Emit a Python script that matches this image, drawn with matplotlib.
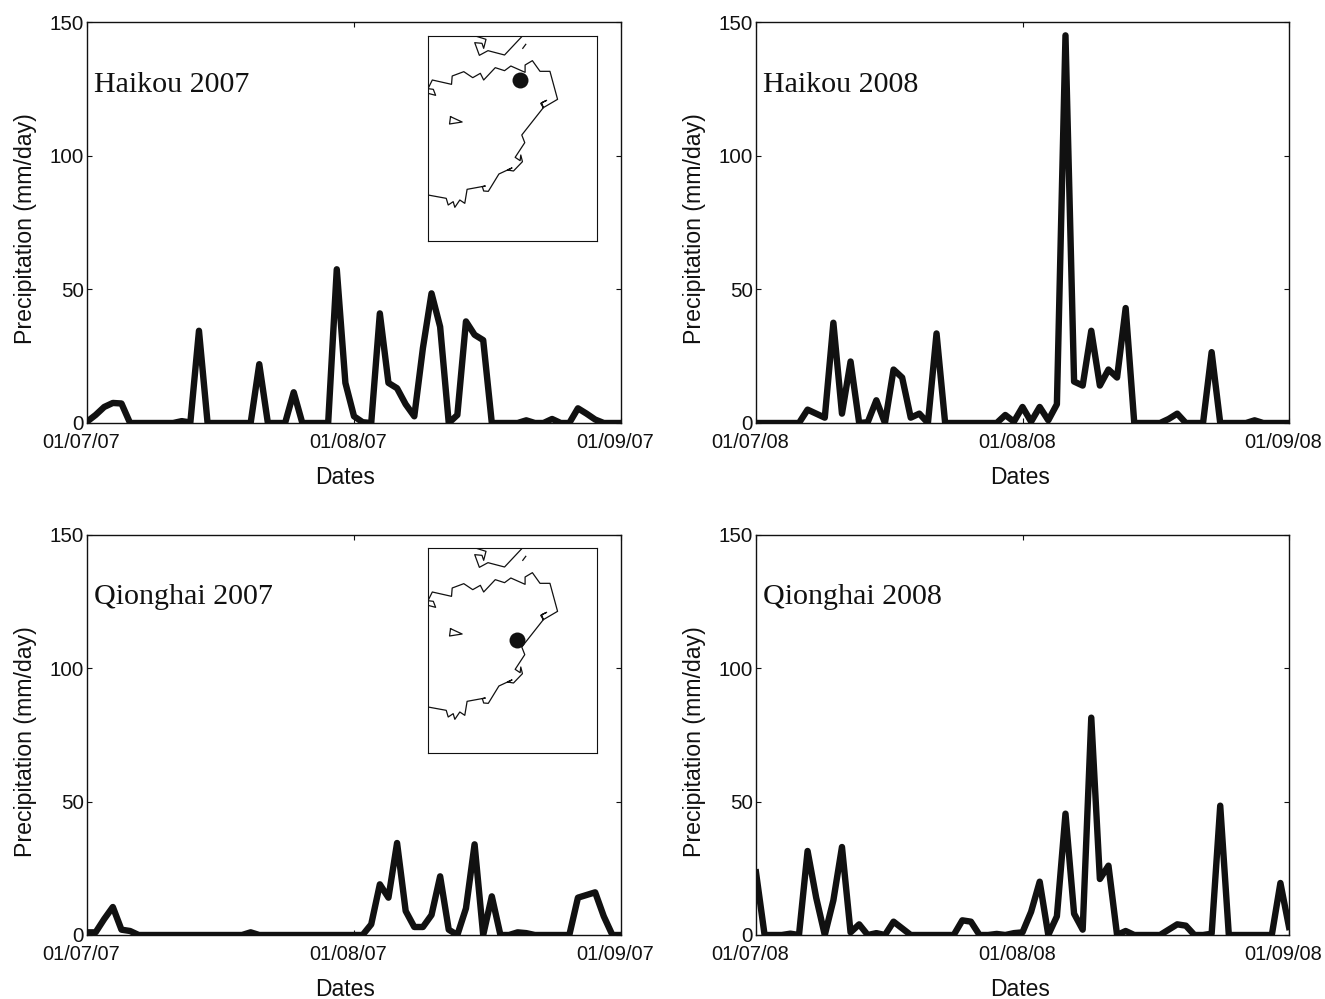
import numpy as np
import matplotlib
matplotlib.use('Agg')
import matplotlib.pyplot as plt
from matplotlib.transforms import ScaledTranslation

# daily precipitation (mm/day), 1 July to 1 Sept
haikou_2007 = [0.5, 3, 6, 7.5, 7.3, 0, 0, 0, 0, 0, 0, 0.7, 0.2, 34.5, 0, 0, 0, 0, 0, 0, 22, 0, 0, 0, 11.5, 0, 0, 0, 0, 57.5, 15,
               2.5, 0.3, 0, 41, 15, 13, 7, 2.5, 28, 48.5, 36, 0, 3, 38, 33, 31, 0, 0, 0, 0, 1, 0, 0, 1.5, 0, 0, 5.5, 3.5, 1.3, 0, 0, 0]
haikou_2008 = [0, 0, 0, 0, 0, 0, 5, 3.5, 2, 37.5, 3.5, 23, 0, 0.3, 8.5, 0, 20, 17, 2, 3.5, 0, 33.5, 0, 0, 0, 0, 0, 0, 0, 3, 0.5,
               6, 0.5, 6, 1, 7, 145, 15.5, 14, 34.5, 14, 20, 17, 43, 0, 0, 0, 0, 1.5, 3.5, 0, 0, 0, 26.5, 0, 0, 0, 0, 1, 0, 0, 0, 0]
qionghai_2007 = [1, 1, 6, 10.5, 2, 1.5, 0, 0, 0, 0, 0, 0, 0, 0, 0, 0, 0, 0, 0, 1, 0, 0, 0, 0, 0, 0, 0, 0, 0, 0, 0,
                 0, 0, 4, 19, 14, 34.5, 9, 3, 3, 7.5, 22, 2, 0, 10, 34, 0, 14.5, 0, 0, 1, 0.7, 0, 0, 0, 0, 0, 14, 15, 16, 7, 0, 0]
qionghai_2008 = [23.5, 0, 0, 0, 0.5, 0, 31.5, 14, 0, 13, 33, 1, 4, 0, 0.7, 0, 5, 2.5, 0, 0, 0, 0, 0, 0, 5.5, 5, 0, 0, 0.4, 0, 0.7,
                 1, 8.7, 20, 0, 7, 45.5, 8, 2, 81.5, 21, 26, 0, 1.5, 0, 0, 0, 0, 2, 4, 3.5, 0, 0, 0.5, 48.5, 0, 0, 0, 0, 0, 0, 19.5, 3]

titles = ['Haikou 2007', 'Haikou 2008', 'Qionghai 2007', 'Qionghai 2008']
series = [haikou_2007, haikou_2008, qionghai_2007, qionghai_2008]
date_ticks = [0, 31, 62]
date_labels = [['01/07/07', '01/08/07', '01/09/07'], ['01/07/08', '01/08/08', '01/09/08'],
               ['01/07/07', '01/08/07', '01/09/07'], ['01/07/08', '01/08/08', '01/09/08']]
y_ticks = [0, 50, 100, 150]

# coastline in map units (y goes downward)
coast_main_x = [22, 35, 93, 95, 130, 157, 180, 190, 225, 253, 272, 315, 315, 337, 360, 390, 413, 370, 362, 380, 365, 370, 305, 314,
                285, 300, 302, 307, 280, 262, 275, 262, 236, 204, 190, 186, 195, 140, 133, 118, 103, 98, 83, 77, 22]
coast_main_y = [176, 150, 163, 138, 125, 143, 130, 150, 113, 122, 108, 127, 105, 92, 124, 124, 208, 233, 220, 211, 218, 233, 315, 338,
                382, 392, 375, 395, 423, 420, 414, 420, 432, 484, 483, 470, 468, 478, 520, 510, 532, 515, 525, 505, 495]
coast_west_x = [22, 38, 45, 22]
coast_west_y = [176, 178, 196, 190]
lake_x = [90, 125, 87, 90]
lake_y = [260, 276, 282, 260]
coast_top_x = [165, 197, 190, 185, 163, 177, 203, 253, 305]
coast_top_y = [18, 28, 55, 40, 38, 76, 62, 75, 20]
islet_x = [308, 317]
islet_y = [55, 43]
stations = {'Haikou': (299, 150), 'Qionghai': (291, 294)}

W, H = 1325, 999
plt.rcParams['font.family'] = ['Liberation Sans', 'DejaVu Sans']
fig = plt.figure(figsize=(W / 100, H / 100), dpi=100)

# axes boxes in pixels: left, top, right, bottom
boxes = [(87, 22, 621, 423), (756, 22, 1289, 423), (87, 535, 621, 935), (756, 535, 1289, 935)]
insets = {0: (428, 36, 597, 241), 2: (428, 548, 597, 753)}
station_names = {0: 'Haikou', 2: 'Qionghai'}
dates_x = [0.483, 0.495, 0.483, 0.495]
ink = '#111111'


def add_axes_px(l, t, r, b):
    return fig.add_axes([l / W, 1 - b / H, (r - l) / W, (b - t) / H])


for i, box in enumerate(boxes):
    ax = add_axes_px(*box)
    ax.plot(np.arange(len(series[i])), series[i], color=ink, lw=4.6, solid_joinstyle='round')
    ax.set_xlim(0, 62)
    ax.set_ylim(0, 150)
    ax.set_xticks(date_ticks)
    ax.set_xticklabels(date_labels[i])
    ax.set_yticks(y_ticks)
    ax.tick_params(direction='in', top=True, right=True, length=3.5, width=0.8, color=ink, labelcolor=ink, labelsize=14.4)
    ax.tick_params(axis='x', pad=7.2)
    ax.tick_params(axis='y', pad=2.2, labelsize=14.8)
    # date labels sit a little left of their ticks
    shift = ScaledTranslation(-5.5 / 100, 0, fig.dpi_scale_trans)
    for lab in ax.get_xticklabels():
        lab.set_transform(lab.get_transform() + shift)
    ax.set_xlabel('Dates', fontsize=16.5, color=ink)
    ax.xaxis.set_label_coords(dates_x[i], -0.107)
    ax.set_ylabel('Precipitation (mm/day)', fontsize=16.7, color=ink)
    ax.yaxis.set_label_coords(-0.093, 0.484)
    for s in ax.spines.values():
        s.set_linewidth(1.0)
        s.set_color(ink)
    ax.text(0.8, 124, titles[i], family=['Liberation Serif'], fontsize=21.6, color=ink, va='baseline')

    if i in insets:
        axi = add_axes_px(*insets[i])
        for mx, my in [(coast_main_x, coast_main_y), (coast_west_x, coast_west_y), (lake_x, lake_y),
                       (coast_top_x, coast_top_y), (islet_x, islet_y)]:
            axi.plot(mx, my, color=ink, lw=0.9)
        sx, sy = stations[station_names[i]]
        axi.plot([sx], [sy], 'o', color=ink, ms=11.5, mew=0)
        axi.set_xlim(22, 532)
        axi.set_ylim(633, 18)
        axi.set_xticks([])
        axi.set_yticks([])
        for s in axi.spines.values():
            s.set_linewidth(0.8)
            s.set_color(ink)

fig.savefig('out.png', dpi=100)
